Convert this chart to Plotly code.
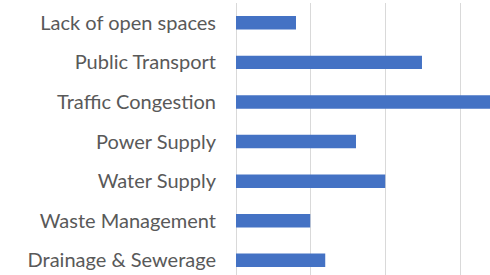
import plotly.graph_objects as go

categories = ["Lack of open spaces", "Public Transport", "Traffic Congestion",
              "Power Supply", "Water Supply", "Waste Management", "Drainage & Sewerage"]
values = [8, 24.8, 36, 16, 19.9, 9.9, 11.9]

fig = go.Figure(go.Bar(
    x=values, y=categories, orientation="h",
    marker=dict(color="#4472C4", line=dict(width=0)),
))

fig.update_layout(
    width=490, height=275,
    margin=dict(l=236, r=0, t=3, b=0),
    paper_bgcolor="white", plot_bgcolor="white",
    bargap=0.66,
    showlegend=False,
    font=dict(family="Lato, Liberation Sans, sans-serif", color="#595959", size=20),
)
fig.update_xaxes(range=[0, 33.87], dtick=10, showgrid=True, gridcolor="#d9d9d9",
                 gridwidth=1, showticklabels=False, zeroline=True, zerolinecolor="#d9d9d9",
                 zerolinewidth=1, showline=False)
fig.update_yaxes(range=[6.37, -0.5], categoryorder="array", categoryarray=categories,
                 showgrid=False, zeroline=False, showline=False, ticks="",
                 ticklabelstandoff=19)

fig.write_html("out.html", config={"displayModeBar": False},
               post_script="document.body.style.margin='0';")
